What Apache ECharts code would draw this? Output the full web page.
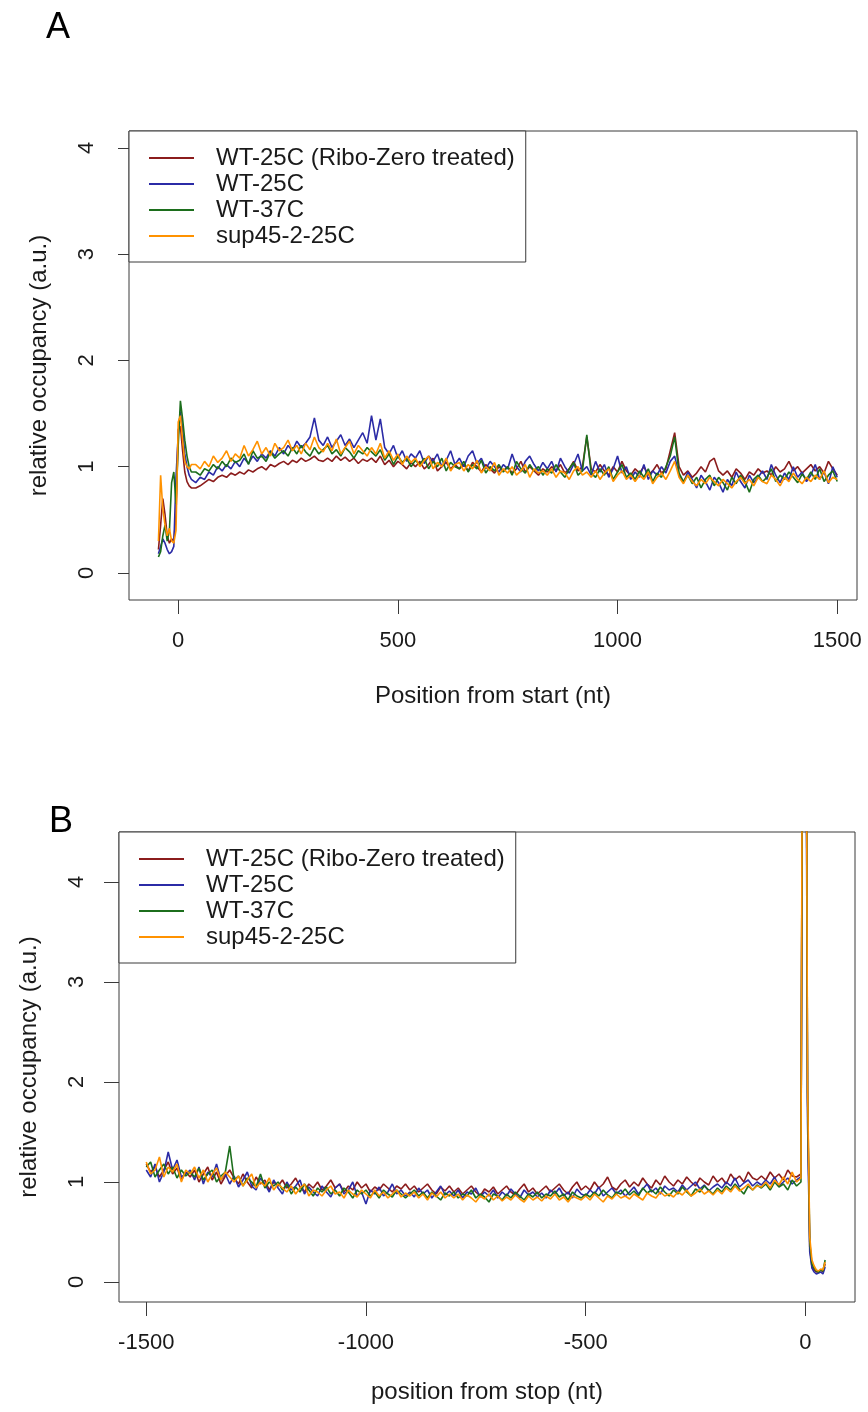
<!DOCTYPE html>
<html>
<head>
<meta charset="utf-8">
<script src="https://cdn.jsdelivr.net/npm/echarts@6/dist/echarts.min.js"></script>
<style>
  html, body { margin: 0; padding: 0; background: #fff; }
  #chart { width: 868px; height: 1412px; }
</style>
</head>
<body>
<div id="chart"></div>
<script>
// names / colours
const seriesNames = ['WT-25C (Ribo-Zero treated)', 'WT-25C', 'WT-37C', 'sup45-2-25C'];
const seriesColors = ['#8b1c1c', '#2b2ba6', '#1c6e1c', '#ff9200'];

// panel A: position from start (nt)
const startPos = [-45,-40,-35,-30,-25,-20,-15,-10,-5,0,5,10,15,20,25,30,
  40,50,60,70,80,90,100,110,120,130,
  140,150,160,170,180,190,200,210,220,230,
  240,250,260,270,280,290,300,310,320,330,
  340,350,360,370,380,390,400,410,420,430,
  440,450,460,470,480,490,500,510,520,530,
  540,550,560,570,580,590,600,610,620,630,
  640,650,660,670,680,690,700,710,720,730,
  740,750,760,770,780,790,800,810,820,830,
  840,850,860,870,880,890,900,910,920,930,
  940,950,960,970,980,990,1000,1010,1020,1030,
  1040,1050,1060,1070,1080,1090,1100,1110,1120,1130,
  1140,1150,1160,1170,1180,1190,1200,1210,1220,1230,
  1240,1250,1260,1270,1280,1290,1300,1310,1320,1330,
  1340,1350,1360,1370,1380,1390,1400,1410,1420,1430,
  1440,1450,1460,1470,1480,1490,1500];

const startRiboZero = [0.22,0.45,0.70,0.55,0.35,0.28,0.32,0.30,0.55,1.35,1.38,1.15,0.95,0.86,0.82,0.80,
  0.80,0.82,0.85,0.88,0.86,0.90,0.92,0.90,0.94,0.92,
  0.95,0.93,0.97,0.95,0.98,1.00,0.97,1.02,1.00,1.03,
  1.05,1.02,1.06,1.04,1.08,1.05,1.07,1.10,1.06,1.05,
  1.08,1.05,1.10,1.06,1.09,1.05,1.08,1.03,1.07,1.05,
  1.08,1.04,1.10,1.02,1.06,1.00,1.05,1.02,0.98,1.04,
  1.00,1.05,0.98,1.02,1.08,0.96,1.00,1.04,0.98,1.02,
  0.98,1.02,0.96,1.04,1.00,0.95,1.02,0.98,0.94,1.00,
  0.96,1.00,0.94,0.98,1.05,0.95,1.00,0.96,0.92,0.98,
  0.95,1.00,0.96,1.02,0.94,0.98,1.05,0.96,1.00,1.28,
  0.98,0.95,1.02,0.96,0.92,1.00,0.95,1.05,0.96,0.92,
  0.98,0.94,1.00,0.92,0.96,1.02,0.94,0.98,1.15,1.32,
  1.00,0.92,0.96,0.90,0.94,1.00,0.95,1.05,1.08,0.96,
  0.92,0.96,0.90,0.98,0.94,0.88,0.95,0.92,0.98,0.94,
  0.96,0.92,1.00,0.95,0.98,1.05,0.96,1.00,0.94,0.98,
  1.02,0.96,1.00,0.94,1.05,0.98,0.92];

const startWT25 = [0.18,0.25,0.32,0.28,0.22,0.18,0.20,0.25,0.90,1.30,1.52,1.35,1.12,1.00,0.92,0.88,
  0.85,0.90,0.88,0.95,0.92,1.00,0.96,1.02,0.98,1.05,
  1.00,1.08,1.03,1.10,1.05,1.12,1.08,1.15,1.10,1.18,
  1.12,1.20,1.15,1.24,1.18,1.22,1.28,1.46,1.25,1.20,
  1.28,1.18,1.24,1.30,1.20,1.26,1.18,1.25,1.32,1.22,
  1.48,1.25,1.45,1.18,1.12,1.20,1.08,1.15,1.05,1.12,
  1.08,1.15,1.03,1.10,1.05,1.12,1.00,1.06,1.15,1.02,
  1.08,1.00,1.10,1.15,1.03,1.08,0.98,1.05,1.00,0.95,
  1.02,0.98,1.12,1.00,0.95,1.05,1.10,1.02,0.96,1.04,
  0.98,1.05,0.95,1.08,1.00,0.94,1.02,1.12,0.96,1.00,
  0.92,1.05,0.95,1.02,0.90,0.98,1.10,0.94,1.00,0.88,
  0.95,0.90,1.02,0.88,0.96,0.92,1.00,0.94,1.05,1.10,
  0.92,0.85,0.95,0.88,0.80,0.92,0.86,0.78,0.90,0.85,
  0.76,0.88,0.82,0.95,0.86,0.80,0.92,0.85,0.90,0.96,
  0.88,1.02,0.92,0.85,0.94,0.88,1.00,0.90,0.95,0.86,
  0.92,1.02,0.88,0.95,0.84,1.00,0.90];

const startWT37 = [0.15,0.20,0.35,0.45,0.30,0.40,0.85,0.95,0.65,1.20,1.62,1.45,1.25,1.10,1.00,0.95,
  0.95,0.92,0.98,0.96,1.02,0.98,1.05,1.00,1.08,1.04,
  1.06,1.12,1.02,1.15,1.08,1.10,1.05,1.14,1.08,1.12,
  1.15,1.10,1.18,1.12,1.20,1.14,1.10,1.18,1.12,1.16,
  1.20,1.12,1.16,1.10,1.18,1.14,1.08,1.15,1.12,1.18,
  1.14,1.10,1.16,1.06,1.12,1.02,1.10,1.04,1.08,1.00,
  1.06,1.02,1.08,0.98,1.05,1.00,1.08,0.96,1.04,1.00,
  0.98,1.05,0.95,1.02,0.98,1.06,0.94,1.00,0.96,1.02,
  0.95,1.00,0.92,1.05,0.98,0.94,1.02,0.96,1.00,0.92,
  0.98,0.94,1.02,0.95,0.90,0.98,1.04,0.92,0.96,1.30,
  0.94,0.90,0.98,0.92,1.00,0.88,0.95,1.02,0.90,0.94,
  0.88,0.96,0.90,0.98,0.86,0.94,0.90,1.00,1.10,1.28,
  0.94,0.86,0.92,0.84,0.90,0.80,0.88,0.92,0.82,0.90,
  0.85,0.78,0.90,0.84,0.92,0.86,0.76,0.88,0.92,0.86,
  0.90,0.98,0.86,0.92,0.88,0.95,0.90,0.85,0.93,0.88,
  0.95,0.88,0.98,0.86,0.92,0.96,0.86];

const startSup45 = [0.30,0.92,0.60,0.45,0.35,0.42,0.30,0.28,0.40,1.42,1.48,1.25,1.05,1.00,0.98,1.02,
  1.02,0.98,1.05,1.00,1.10,1.04,1.08,1.15,1.05,1.12,
  1.08,1.20,1.10,1.16,1.24,1.12,1.18,1.10,1.22,1.15,
  1.18,1.25,1.15,1.20,1.12,1.22,1.16,1.28,1.18,1.14,
  1.22,1.15,1.26,1.12,1.18,1.24,1.12,1.20,1.15,1.10,
  1.18,1.12,1.22,1.08,1.15,1.06,1.12,1.02,1.10,1.04,
  1.08,1.00,1.06,1.10,0.98,1.04,1.00,1.08,0.96,1.02,
  1.04,0.96,1.02,0.98,1.06,0.94,1.00,0.96,1.04,0.92,
  0.98,0.94,1.00,0.92,0.96,1.02,0.90,0.98,0.94,0.96,
  0.92,0.98,0.90,0.96,0.94,0.88,0.96,1.00,0.92,0.95,
  0.90,0.96,0.88,0.94,0.98,0.86,0.92,0.96,0.88,0.92,
  0.86,0.92,0.88,0.95,0.84,0.90,0.94,0.88,0.96,1.05,
  0.90,0.84,0.92,0.86,0.82,0.88,0.84,0.90,0.86,0.82,
  0.88,0.84,0.80,0.86,0.90,0.84,0.88,0.82,0.90,0.86,
  0.84,0.92,0.88,0.82,0.90,0.86,0.94,0.88,0.84,0.90,
  0.86,0.92,0.88,0.96,0.85,0.90,0.88];

// panel B: position from stop (nt)
const stopPos = [-1500,-1490,-1480,-1470,-1460,-1450,-1440,-1430,-1420,-1410,
  -1400,-1390,-1380,-1370,-1360,-1350,-1340,-1330,-1320,-1310,
  -1300,-1290,-1280,-1270,-1260,-1250,-1240,-1230,-1220,-1210,
  -1200,-1190,-1180,-1170,-1160,-1150,-1140,-1130,-1120,-1110,
  -1100,-1090,-1080,-1070,-1060,-1050,-1040,-1030,-1020,-1010,
  -1000,-990,-980,-970,-960,-950,-940,-930,-920,-910,
  -900,-890,-880,-870,-860,-850,-840,-830,-820,-810,
  -800,-790,-780,-770,-760,-750,-740,-730,-720,-710,
  -700,-690,-680,-670,-660,-650,-640,-630,-620,-610,
  -600,-590,-580,-570,-560,-550,-540,-530,-520,-510,
  -500,-490,-480,-470,-460,-450,-440,-430,-420,-410,
  -400,-390,-380,-370,-360,-350,-340,-330,-320,-310,
  -300,-290,-280,-270,-260,-250,-240,-230,-220,-210,
  -200,-190,-180,-170,-160,-150,-140,-130,-120,-110,
  -100,-90,-80,-70,-60,-50,-40,-30,-20,-10,
  -5,0,5,10,15,20,25,30,35,40,45];

const stopRiboZero = [1.18,1.10,1.15,1.05,1.12,1.20,1.08,1.14,1.02,1.10,
  1.05,1.12,1.00,1.08,1.15,1.02,1.10,0.98,1.06,1.12,
  1.04,0.98,1.08,1.00,0.94,1.05,0.98,1.02,0.92,1.00,
  0.96,1.02,0.94,0.98,1.04,0.95,0.90,0.98,0.94,1.00,
  0.92,0.96,1.02,0.94,0.98,0.90,0.96,0.92,1.00,0.94,
  0.98,0.90,0.95,0.92,0.98,0.94,0.90,0.96,0.93,0.98,
  0.92,0.96,0.90,0.94,0.98,0.92,0.88,0.95,0.91,0.96,
  0.90,0.94,0.88,0.92,0.96,0.90,0.86,0.93,0.90,0.95,
  0.88,0.92,0.96,0.90,0.87,0.93,0.98,0.90,0.94,0.88,
  0.92,0.96,0.90,0.94,0.98,0.92,0.88,0.95,1.00,0.92,
  0.96,0.92,1.00,0.94,0.98,1.05,0.95,0.92,0.98,1.02,
  0.95,1.00,0.96,1.04,0.98,0.94,1.02,0.97,1.06,1.00,
  0.96,1.02,0.98,1.05,1.00,0.96,1.04,1.00,0.97,1.06,
  1.00,1.04,0.98,1.08,1.02,1.06,1.00,1.10,1.04,1.02,
  1.06,1.02,1.10,1.04,1.08,1.02,1.12,1.06,1.05,1.08,
  8.0,8.5,1.8,0.35,0.15,0.12,0.10,0.10,0.12,0.10,0.18];

const stopWT25 = [1.12,1.05,1.18,1.00,1.10,1.30,1.12,1.22,1.05,1.08,
  1.12,1.02,1.15,0.98,1.10,1.05,1.18,1.02,1.08,0.98,
  1.06,0.95,1.02,1.10,0.96,0.92,1.04,0.98,0.90,1.02,
  0.94,0.88,1.00,0.92,0.96,1.02,0.88,0.95,0.90,0.86,
  0.96,0.90,0.85,0.94,0.98,0.88,0.92,1.00,0.86,0.90,
  0.78,0.92,0.88,0.95,0.86,0.90,0.98,0.88,0.92,0.86,
  0.90,0.85,0.94,0.88,0.92,0.84,0.90,0.96,0.87,0.91,
  0.86,0.92,0.84,0.90,0.88,0.94,0.85,0.90,0.86,0.92,
  0.84,0.90,0.86,0.93,0.88,0.84,0.92,0.87,0.90,0.85,
  0.89,0.84,0.92,0.88,0.94,0.86,0.90,0.84,0.93,0.88,
  0.86,0.92,0.88,0.95,0.86,0.90,0.94,0.88,0.92,0.86,
  0.90,0.95,0.88,0.93,0.98,0.90,0.94,0.88,0.96,0.92,
  0.94,0.90,0.97,0.92,0.96,1.00,0.93,0.97,0.91,0.95,
  0.98,0.94,1.00,0.96,1.04,0.95,0.99,1.02,0.96,1.00,
  0.97,1.02,0.98,1.05,0.96,1.00,1.04,0.98,1.02,1.05,
  7.5,8.0,1.6,0.30,0.14,0.10,0.08,0.09,0.10,0.08,0.15];

const stopWT37 = [1.15,1.20,1.05,1.12,1.18,1.08,1.15,1.04,1.12,1.06,
  1.10,1.05,1.14,1.02,1.08,1.12,1.00,1.06,1.10,1.36,
  1.02,1.06,0.96,1.04,1.00,0.95,1.08,0.94,1.00,0.96,
  1.00,0.92,0.98,0.88,0.95,0.90,0.98,0.92,0.86,0.94,
  0.90,0.95,0.88,0.92,0.86,0.94,0.90,0.84,0.92,0.88,
  0.92,0.86,0.90,0.84,0.92,0.88,0.85,0.92,0.88,0.84,
  0.88,0.92,0.86,0.90,0.84,0.90,0.86,0.82,0.89,0.86,
  0.90,0.84,0.88,0.86,0.92,0.84,0.88,0.85,0.80,0.88,
  0.86,0.82,0.88,0.84,0.90,0.86,0.82,0.88,0.85,0.90,
  0.84,0.88,0.86,0.91,0.85,0.88,0.82,0.90,0.86,0.84,
  0.88,0.85,0.90,0.86,0.92,0.87,0.84,0.90,0.88,0.93,
  0.87,0.91,0.86,0.94,0.89,0.92,0.88,0.95,0.90,0.86,
  0.92,0.88,0.95,0.90,0.86,0.93,0.90,0.96,0.92,0.88,
  0.94,0.90,0.96,0.92,0.98,0.93,0.88,0.96,0.92,0.97,
  0.94,0.98,0.92,1.00,0.95,0.98,0.92,1.02,0.96,1.00,
  8.2,8.8,1.9,0.40,0.18,0.14,0.11,0.10,0.12,0.11,0.22];

const stopSup45 = [1.20,1.08,1.12,1.25,1.05,1.15,1.10,1.18,1.00,1.12,
  1.08,1.15,1.04,1.12,1.00,1.08,1.14,1.02,1.10,1.05,
  1.00,1.06,0.96,1.02,1.08,0.94,1.00,0.96,1.04,0.92,
  0.98,0.94,0.90,0.96,0.88,0.94,0.98,0.86,0.92,0.90,
  0.86,0.92,0.96,0.88,0.90,0.84,0.92,0.88,0.85,0.92,
  0.88,0.84,0.92,0.86,0.90,0.84,0.88,0.92,0.85,0.89,
  0.86,0.90,0.84,0.88,0.82,0.89,0.85,0.90,0.84,0.88,
  0.84,0.88,0.82,0.87,0.84,0.80,0.86,0.83,0.88,0.82,
  0.86,0.81,0.85,0.82,0.87,0.83,0.80,0.86,0.82,0.85,
  0.81,0.86,0.83,0.88,0.82,0.85,0.80,0.86,0.84,0.82,
  0.86,0.82,0.88,0.84,0.80,0.86,0.83,0.88,0.84,0.86,
  0.83,0.88,0.85,0.82,0.89,0.86,0.84,0.90,0.86,0.88,
  0.85,0.90,0.87,0.92,0.86,0.89,0.93,0.88,0.91,0.87,
  0.92,0.88,0.94,0.90,0.96,0.91,0.94,0.98,0.92,0.96,
  0.95,1.00,0.94,1.02,0.97,1.05,0.98,1.10,1.00,1.04,
  8.6,9.0,2.0,0.45,0.22,0.16,0.12,0.11,0.13,0.12,0.20];

const yTicks = [0, 1, 2, 3, 4];
const startTicks = [0, 500, 1000, 1500];
const stopTicks = [-1500, -1000, -500, 0];

const font = 'Liberation Sans, Arial, Helvetica, sans-serif';
const ink = '#1a1a1a';
const frame = '#3a3a3a';

function pairs(xs, ys) {
    return xs.map((x, i) => [x, ys[i]]);
}

const chart = echarts.init(document.getElementById('chart'), null, { renderer: 'canvas' });

function xAxisFor(gridIndex, min, max, ticks, title, gap) {
    return {
        type: 'value', gridIndex: gridIndex, min: min, max: max,
        splitLine: { show: false },
        axisLine: { show: false, onZero: false },
        axisTick: { show: true, length: 14, lineStyle: { color: frame }, customValues: ticks },
        axisLabel: { color: ink, fontSize: 22, fontFamily: font, margin: 30, customValues: ticks,
            formatter: v => String(v) },
        name: title, nameLocation: 'middle', nameGap: gap,
        nameTextStyle: { color: ink, fontSize: 24, fontFamily: font }
    };
}

function yAxisFor(gridIndex, min, max, tickLen) {
    return {
        type: 'value', gridIndex: gridIndex, min: min, max: max,
        splitLine: { show: false },
        axisLine: { show: false, onZero: false },
        axisTick: { show: true, length: tickLen, lineStyle: { color: frame }, customValues: yTicks },
        axisLabel: { color: ink, fontSize: 22, fontFamily: font, margin: 31, rotate: 90, customValues: yTicks,
            formatter: v => String(v) },
        name: 'relative occupancy (a.u.)', nameLocation: 'middle', nameGap: 78, nameRotate: 90,
        nameTextStyle: { color: ink, fontSize: 24, fontFamily: font }
    };
}

function legendAt(left, top) {
    return {
        data: seriesNames, orient: 'vertical', left: left, top: top,
        icon: 'rect', itemWidth: 45, itemHeight: 2, itemGap: 2,
        padding: [15, 11, 14, 20],
        borderColor: frame, borderWidth: 1, backgroundColor: '#fff',
        selectedMode: false,
        textStyle: { color: ink, fontSize: 24, fontFamily: font, lineHeight: 24, padding: [0, 0, 0, 17] }
    };
}

const startData = [startRiboZero, startWT25, startWT37, startSup45];
const stopData = [stopRiboZero, stopWT25, stopWT37, stopSup45];

const series = [];
seriesNames.forEach((name, i) => {
    series.push({
        name: name, type: 'line', xAxisIndex: 0, yAxisIndex: 0,
        data: pairs(startPos, startData[i]),
        showSymbol: false, symbol: 'none', clip: true,
        lineStyle: { color: seriesColors[i], width: 1.6 },
        itemStyle: { color: seriesColors[i] }
    });
});
seriesNames.forEach((name, i) => {
    series.push({
        name: name, type: 'line', xAxisIndex: 1, yAxisIndex: 1,
        data: pairs(stopPos, stopData[i]),
        showSymbol: false, symbol: 'none', clip: true,
        lineStyle: { color: seriesColors[i], width: 1.6 },
        itemStyle: { color: seriesColors[i] }
    });
});

const option = {
    animation: false,
    backgroundColor: '#fff',
    grid: [
        { left: 129, top: 131, width: 728, height: 469, show: true, borderColor: frame, borderWidth: 1 },
        { left: 119, top: 832, width: 736, height: 470, show: true, borderColor: frame, borderWidth: 1 }
    ],
    xAxis: [
        xAxisFor(0, -112, 1545, startTicks, 'Position from start (nt)', 84),
        xAxisFor(1, -1562, 113, stopTicks, 'position from stop (nt)', 78)
    ],
    yAxis: [
        yAxisFor(0, -0.255, 4.16, 11),
        yAxisFor(1, -0.2, 4.5, 15)
    ],
    legend: [legendAt(129, 131), legendAt(119, 832)],
    graphic: [
        { type: 'text', left: 46, top: 10, style: { text: 'A', fill: '#000', font: '36px ' + font } },
        { type: 'text', left: 49, top: 804, style: { text: 'B', fill: '#000', font: '36px ' + font } }
    ],
    series: series
};

chart.setOption(option);
</script>
</body>
</html>
